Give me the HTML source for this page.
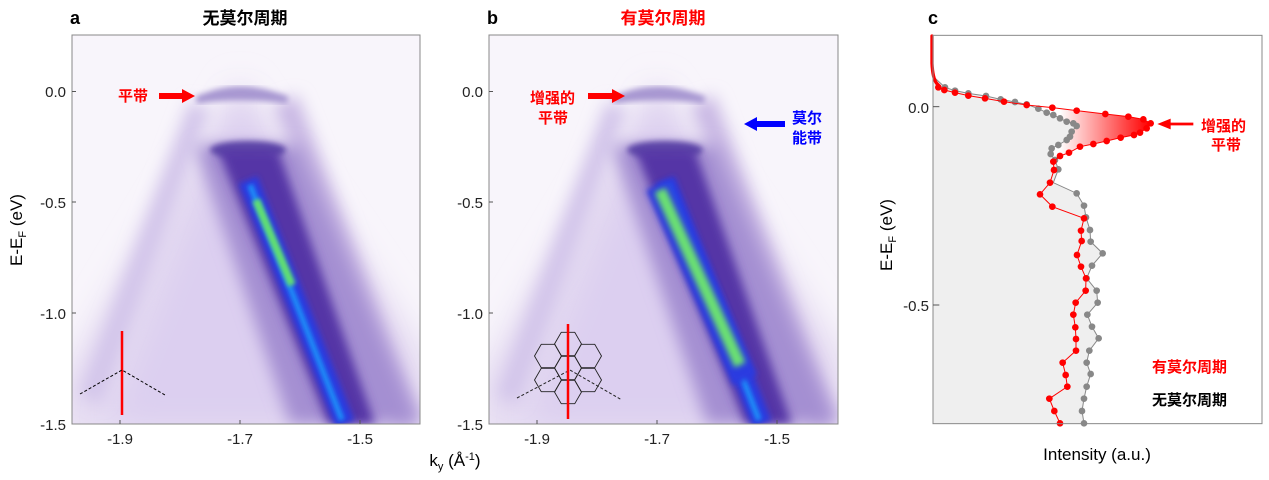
<!DOCTYPE html>
<html><head><meta charset="utf-8"><style>
body{margin:0;background:#fff;}
svg{display:block;font-family:"Liberation Sans","Noto Sans CJK SC",sans-serif;}
</style></head><body>
<svg width="1269" height="480" viewBox="0 0 1269 480" xmlns="http://www.w3.org/2000/svg">
<defs>
<filter id="b8" x="-50%" y="-50%" width="200%" height="200%"><feGaussianBlur stdDeviation="8"/></filter>
<filter id="b5" x="-50%" y="-50%" width="200%" height="200%"><feGaussianBlur stdDeviation="5"/></filter>
<filter id="b3" x="-50%" y="-50%" width="200%" height="200%"><feGaussianBlur stdDeviation="3"/></filter>
<filter id="b2" x="-50%" y="-50%" width="200%" height="200%"><feGaussianBlur stdDeviation="2"/></filter>
<filter id="b15" x="-50%" y="-50%" width="200%" height="200%"><feGaussianBlur stdDeviation="15"/></filter>
<clipPath id="ca"><rect x="72" y="35" width="348" height="389"/></clipPath>
<clipPath id="cb"><rect x="489" y="35" width="349" height="389"/></clipPath>
<linearGradient id="rg" x1="540" y1="0" x2="810" y2="0" gradientUnits="userSpaceOnUse">
<stop offset="0" stop-color="#fff"/><stop offset="1" stop-color="#f00"/></linearGradient>
<g id="band">
<rect x="72" y="35" width="349" height="389" fill="#f8f5fb"/>
<polygon points="240,80 60,380 60,440 430,440 430,360" fill="#e4daf1" filter="url(#b15)"/>
<polygon points="240,95 110,424 400,424" fill="#dccff0" filter="url(#b15)"/>
<line x1="200" y1="105" x2="90" y2="400" stroke="#d2c4ea" stroke-width="22" filter="url(#b8)"/>
<line x1="285" y1="100" x2="410" y2="424" stroke="#c9b8e4" stroke-width="26" filter="url(#b8)"/>
<path d="M197,100 Q240,80 287,100 Q240,94 197,100 z" fill="#b0a0d8" stroke="#a898d2" stroke-width="7" filter="url(#b3)"/>
<polygon points="195,145 300,145 420,424 290,424" fill="#a48fd2" filter="url(#b8)"/>
<ellipse cx="248" cy="150" rx="38" ry="9" fill="#5e48a8" filter="url(#b3)"/>
<polygon points="218,150 278,150 375,424 328,424" fill="#5536a6" filter="url(#b5)"/>
<line x1="248" y1="180" x2="345" y2="424" stroke="#2a3ae0" stroke-width="20" filter="url(#b3)"/>
<line x1="250" y1="185" x2="342" y2="420" stroke="#1c8cf8" stroke-width="6" filter="url(#b2)"/>
</g>
</defs>

<!-- Panel a -->
<g clip-path="url(#ca)"><use href="#band"/>
<line x1="256" y1="200" x2="292" y2="285" stroke="#62e070" stroke-width="8" filter="url(#b2)"/>
</g>
<rect x="72" y="35" width="348" height="389" fill="none" stroke="#888" stroke-width="1"/>
<text x="70" y="24" font-size="18" font-weight="bold">a</text>
<text x="245" y="24" font-size="17" font-weight="bold" text-anchor="middle">无莫尔周期</text>
<g font-size="15" text-anchor="end" fill="#222">
<text x="66" y="97">0.0</text><text x="66" y="208">-0.5</text><text x="66" y="319">-1.0</text><text x="66" y="430">-1.5</text></g>
<g stroke="#555"><line x1="72" y1="91.5" x2="76" y2="91.5"/><line x1="72" y1="202" x2="76" y2="202"/><line x1="72" y1="313" x2="76" y2="313"/><line x1="120" y1="424" x2="120" y2="420"/><line x1="240" y1="424" x2="240" y2="420"/><line x1="360" y1="424" x2="360" y2="420"/></g>
<g font-size="15" text-anchor="middle" fill="#222"><text x="120" y="444">-1.9</text><text x="240" y="444">-1.7</text><text x="360" y="444">-1.5</text></g>
<text transform="translate(22,230) rotate(-90)" font-size="17" text-anchor="middle">E-E<tspan font-size="11" dy="4">F</tspan><tspan dy="-4"> (eV)</tspan></text>
<text x="118" y="101" font-size="15" fill="#f00" font-weight="bold">平带</text>
<polygon points="159,93 182,93 182,89 195,96 182,103 182,99 159,99" fill="#f00"/>
<line x1="122" y1="331" x2="122" y2="415" stroke="#f00" stroke-width="2.5"/>
<polyline points="80,394 122,370 165,395" fill="none" stroke="#000" stroke-dasharray="3,2"/>

<!-- Panel b -->
<g clip-path="url(#cb)"><use href="#band" x="417"/>
<line x1="658" y1="185" x2="745" y2="380" stroke="#2a3ae0" stroke-width="26" filter="url(#b3)"/>
<line x1="660" y1="190" x2="740" y2="365" stroke="#6ae072" stroke-width="12" filter="url(#b3)"/>
</g>
<rect x="489" y="35" width="349" height="389" fill="none" stroke="#888" stroke-width="1"/>
<text x="487" y="24" font-size="18" font-weight="bold">b</text>
<text x="663" y="24" font-size="17" font-weight="bold" fill="#f00" text-anchor="middle">有莫尔周期</text>
<g font-size="15" text-anchor="end" fill="#222">
<text x="483" y="97">0.0</text><text x="483" y="208">-0.5</text><text x="483" y="319">-1.0</text><text x="483" y="430">-1.5</text></g>
<g stroke="#555"><line x1="489" y1="91.5" x2="493" y2="91.5"/><line x1="489" y1="202" x2="493" y2="202"/><line x1="489" y1="313" x2="493" y2="313"/><line x1="537" y1="424" x2="537" y2="420"/><line x1="657" y1="424" x2="657" y2="420"/><line x1="777" y1="424" x2="777" y2="420"/></g>
<g font-size="15" text-anchor="middle" fill="#222"><text x="537" y="444">-1.9</text><text x="657" y="444">-1.7</text><text x="777" y="444">-1.5</text></g>
<text x="530" y="103" font-size="15" fill="#f00" font-weight="bold">增强的</text>
<text x="538" y="123" font-size="15" fill="#f00" font-weight="bold">平带</text>
<polygon points="588,93 612,93 612,89 625,96 612,103 612,99 588,99" fill="#f00"/>
<text x="792" y="123" font-size="15" fill="#00f" font-weight="bold">莫尔</text>
<text x="792" y="143" font-size="15" fill="#00f" font-weight="bold">能带</text>
<polygon points="785,121 757,121 757,117 744,124 757,131 757,127 785,127" fill="#00f"/>
<g fill="none" stroke="#222" stroke-width="0.9">
<polygon points="554.5,344 561.25,332.3 574.75,332.3 581.5,344 574.75,355.7 561.25,355.7"/>
<polygon points="554.5,368 561.25,356.3 574.75,356.3 581.5,368 574.75,379.7 561.25,379.7"/>
<polygon points="554.5,392 561.25,380.3 574.75,380.3 581.5,392 574.75,403.7 561.25,403.7"/>
<polygon points="534.5,356 541.25,344.3 554.75,344.3 561.5,356 554.75,367.7 541.25,367.7"/>
<polygon points="534.5,380 541.25,368.3 554.75,368.3 561.5,380 554.75,391.7 541.25,391.7"/>
<polygon points="574.5,356 581.25,344.3 594.75,344.3 601.5,356 594.75,367.7 581.25,367.7"/>
<polygon points="574.5,380 581.25,368.3 594.75,368.3 601.5,380 594.75,391.7 581.25,391.7"/>
</g>
<polyline points="517,398 570,370 622,400" fill="none" stroke="#222" stroke-dasharray="3,2"/>
<line x1="568" y1="324" x2="568" y2="419" stroke="#f00" stroke-width="2.5"/>
<text x="455" y="466" font-size="17" text-anchor="middle">k<tspan font-size="11" dy="4">y</tspan><tspan dy="-4"> (Å</tspan><tspan font-size="11" dy="-6">-1</tspan><tspan dy="6">)</tspan></text>

<!-- Panel c -->
<text x="928" y="24" font-size="18" font-weight="bold">c</text>
<g transform="translate(880,0) scale(0.33333)">
<polygon points="517,323 590,332 676,342 745,350 790,358 812,370 800,385 780,398 762,405 722,413 680,423 640,432 600,440 567,458 540,468 520,485 520,340" fill="url(#rg)"/>
<polygon points="158,105 160,230 195,262 225,272 265,280 318,288 362,298 405,306 440,313 475,326 500,338 520,345 540,355 560,365 580,370 590,378 575,395 570,410 560,420 535,435 515,445 512,462 525,480 535,508 520,548 590,580 612,617 618,652 630,690 632,725 668,760 636,797 620,835 650,872 653,908 622,944 636,980 656,1015 628,1052 620,1088 632,1122 620,1160 612,1196 606,1233 612,1270 160,1270" fill="#efefef"/>
<polyline fill="none" stroke="#888" stroke-width="3" points="160,230 195,262 225,272 265,280 318,288 362,298 405,306 440,313 475,326 500,338 520,345 540,355 560,365 580,370 590,378 575,395 570,410 560,420 535,435 515,445 512,462 525,480 535,508 520,548 590,580 612,617 618,652 630,690 632,725 668,760 636,797 620,835 650,872 653,908 622,944 636,980 656,1015 628,1052 620,1088 632,1122 620,1160 612,1196 606,1233 612,1270"/>
<g fill="#888">
<circle cx="195" cy="262" r="10"/><circle cx="225" cy="272" r="10"/><circle cx="265" cy="280" r="10"/><circle cx="318" cy="288" r="10"/><circle cx="362" cy="298" r="10"/><circle cx="405" cy="306" r="10"/><circle cx="440" cy="313" r="10"/><circle cx="475" cy="326" r="10"/><circle cx="500" cy="338" r="10"/><circle cx="520" cy="345" r="10"/><circle cx="540" cy="355" r="10"/><circle cx="560" cy="365" r="10"/><circle cx="580" cy="370" r="10"/><circle cx="590" cy="378" r="10"/><circle cx="575" cy="395" r="10"/><circle cx="570" cy="410" r="10"/><circle cx="560" cy="420" r="10"/><circle cx="535" cy="435" r="10"/><circle cx="515" cy="445" r="10"/><circle cx="512" cy="462" r="10"/><circle cx="525" cy="480" r="10"/><circle cx="535" cy="508" r="10"/><circle cx="590" cy="580" r="10"/><circle cx="612" cy="617" r="10"/><circle cx="618" cy="652" r="10"/><circle cx="630" cy="690" r="10"/><circle cx="632" cy="725" r="10"/><circle cx="668" cy="760" r="10"/><circle cx="636" cy="797" r="10"/><circle cx="620" cy="835" r="10"/><circle cx="650" cy="872" r="10"/><circle cx="653" cy="908" r="10"/><circle cx="622" cy="944" r="10"/><circle cx="636" cy="980" r="10"/><circle cx="656" cy="1015" r="10"/><circle cx="628" cy="1052" r="10"/><circle cx="620" cy="1088" r="10"/><circle cx="632" cy="1122" r="10"/><circle cx="620" cy="1160" r="10"/><circle cx="612" cy="1196" r="10"/><circle cx="606" cy="1233" r="10"/><circle cx="612" cy="1270" r="10"/>
</g>
<path d="M156,108 L156,190 Q158,235 170,250 L178,258" stroke="#f00" stroke-width="10" fill="none" stroke-linecap="round"/>
<polyline fill="none" stroke="#f00" stroke-width="3" points="175,262 193,270 225,278 265,287 315,295 372,305 440,315 517,323 590,332 676,342 745,350 790,358 812,370 800,385 780,398 762,405 722,413 680,423 640,432 600,440 567,458 540,468 520,485 522,510 510,548 480,583 517,620 612,655 603,692 605,723 591,765 603,800 618,835 617,872 587,908 580,944 586,982 588,1017 588,1052 548,1088 557,1125 562,1160 508,1196 523,1233 540,1270"/>
<g fill="#f00">
<circle cx="175" cy="262" r="10"/><circle cx="193" cy="270" r="10"/><circle cx="225" cy="278" r="10"/><circle cx="265" cy="287" r="10"/><circle cx="315" cy="295" r="10"/><circle cx="372" cy="305" r="10"/><circle cx="440" cy="315" r="10"/><circle cx="517" cy="323" r="10"/><circle cx="590" cy="332" r="10"/><circle cx="676" cy="342" r="10"/><circle cx="745" cy="350" r="10"/><circle cx="790" cy="358" r="10"/><circle cx="812" cy="370" r="10"/><circle cx="800" cy="385" r="10"/><circle cx="780" cy="398" r="10"/><circle cx="762" cy="405" r="10"/><circle cx="722" cy="413" r="10"/><circle cx="680" cy="423" r="10"/><circle cx="640" cy="432" r="10"/><circle cx="600" cy="440" r="10"/><circle cx="567" cy="458" r="10"/><circle cx="540" cy="468" r="10"/><circle cx="520" cy="485" r="10"/><circle cx="522" cy="510" r="10"/><circle cx="510" cy="548" r="10"/><circle cx="480" cy="583" r="10"/><circle cx="517" cy="620" r="10"/><circle cx="612" cy="655" r="10"/><circle cx="603" cy="692" r="10"/><circle cx="605" cy="723" r="10"/><circle cx="591" cy="765" r="10"/><circle cx="603" cy="800" r="10"/><circle cx="618" cy="835" r="10"/><circle cx="617" cy="872" r="10"/><circle cx="587" cy="908" r="10"/><circle cx="580" cy="944" r="10"/><circle cx="586" cy="982" r="10"/><circle cx="588" cy="1017" r="10"/><circle cx="588" cy="1052" r="10"/><circle cx="548" cy="1088" r="10"/><circle cx="557" cy="1125" r="10"/><circle cx="562" cy="1160" r="10"/><circle cx="508" cy="1196" r="10"/><circle cx="523" cy="1233" r="10"/><circle cx="540" cy="1270" r="10"/>
</g>
<rect x="159" y="106" width="987" height="1165" fill="none" stroke="#888" stroke-width="3"/>
<line x1="159" y1="320" x2="178" y2="320" stroke="#555" stroke-width="3"/>
<line x1="159" y1="915" x2="178" y2="915" stroke="#555" stroke-width="3"/>
<polygon points="940,368 872,368 872,356 832,372 872,388 872,376 940,376" fill="#f00"/>
</g>
<g font-size="15" text-anchor="end" fill="#222"><text x="929" y="113">0.0</text><text x="929" y="311">-0.5</text></g>
<text transform="translate(892,235) rotate(-90)" font-size="17" text-anchor="middle">E-E<tspan font-size="11" dy="4">F</tspan><tspan dy="-4"> (eV)</tspan></text>
<text x="1097" y="460" font-size="17" text-anchor="middle">Intensity (a.u.)</text>
<text x="1201" y="131" font-size="15" fill="#f00" font-weight="bold">增强的</text>
<text x="1211" y="150" font-size="15" fill="#f00" font-weight="bold">平带</text>
<text x="1152" y="372" font-size="15" fill="#f00" font-weight="bold">有莫尔周期</text>
<text x="1152" y="405" font-size="15" fill="#000" font-weight="bold">无莫尔周期</text>
</svg>
</body></html>
